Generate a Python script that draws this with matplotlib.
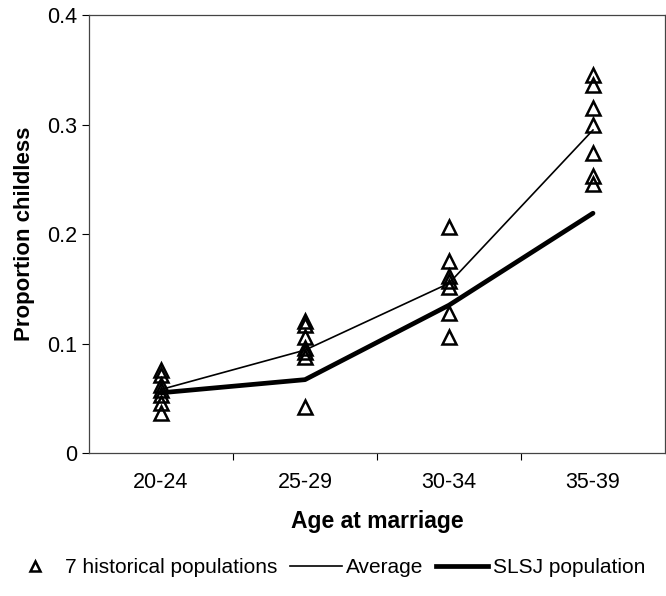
import matplotlib.pyplot as plt
from matplotlib.lines import Line2D

plt.rcParams['font.family'] = ['Liberation Sans', 'DejaVu Sans']

# age groups at marriage
age_groups = ['20-24', '25-29', '30-34', '35-39']

# proportion childless in the 7 historical populations, one list per age group
hist_2024 = [0.076, 0.071, 0.062, 0.058, 0.053, 0.046, 0.037]
hist_2529 = [0.121, 0.117, 0.106, 0.096, 0.092, 0.088, 0.042]
hist_3034 = [0.206, 0.175, 0.162, 0.157, 0.152, 0.128, 0.106]
hist_3539 = [0.345, 0.336, 0.315, 0.300, 0.274, 0.253, 0.246]

average = [0.058, 0.094, 0.155, 0.295]
slsj = [0.055, 0.067, 0.135, 0.219]

y_ticks = [0, 0.1, 0.2, 0.3, 0.4]
y_tick_labels = ['0', '0.1', '0.2', '0.3', '0.4']

fig = plt.figure(figsize=(6.66, 5.96), dpi=100)
ax = fig.add_axes([0.1336, 0.2399, 0.8649, 0.7349])

xs = list(range(len(age_groups)))
ax.plot(xs, average, color='black', lw=1.2)
ax.plot(xs, slsj, color='black', lw=3.4, solid_capstyle='round')

hist = [hist_2024, hist_2529, hist_3034, hist_3539]
for i, vals in enumerate(hist):
    ax.plot([i] * len(vals), vals, linestyle='none', marker='^', ms=10.5,
            mfc='none', mec='black', mew=1.8)

ax.set_xlim(-0.5, 3.5)
ax.set_ylim(0, 0.4)
ax.set_yticks(y_ticks)
ax.set_yticklabels(y_tick_labels)
ax.set_xticks(xs)
ax.set_xticklabels(age_groups)
ax.set_xticks([0.5, 1.5, 2.5], minor=True)
ax.tick_params(axis='x', which='major', length=0, labelsize=15.5, pad=14)
ax.tick_params(axis='x', which='minor', length=5, direction='out', width=0.8)
ax.tick_params(axis='y', length=5, direction='out', width=0.8, labelsize=15.5)

for s in ax.spines.values():
    s.set_color('#444444')
    s.set_linewidth(0.9)

ax.set_ylabel('Proportion childless', fontsize=16, fontweight='bold', labelpad=9)
ax.set_xlabel('Age at marriage', fontsize=16.5, fontweight='bold', labelpad=12)

handles = [
    Line2D([], [], linestyle='none', marker='^', ms=7, mfc='none', mec='black', mew=1.8),
    Line2D([], [], color='black', lw=1.2),
    Line2D([], [], color='black', lw=3.4),
]
labels = ['7 historical populations', 'Average', 'SLSJ population']
fig.legend(handles, labels, loc='center', bbox_to_anchor=(0.491, 0.048), ncol=3,
           frameon=False, fontsize=15, handlelength=2.5, handletextpad=0.2,
           columnspacing=0.6, borderaxespad=0, borderpad=0)

fig.savefig('out.png', dpi=100)
